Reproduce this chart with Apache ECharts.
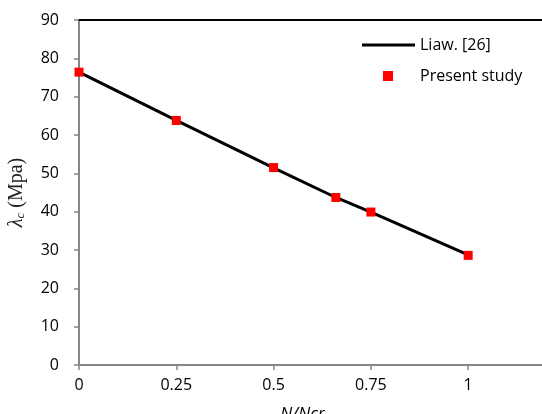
<!DOCTYPE html>
<html>
<head>
<meta charset="utf-8">
<script src="https://cdn.jsdelivr.net/npm/echarts@6/dist/echarts.min.js"></script>
<style>
  html, body { margin: 0; padding: 0; background: #fff; }
  #chart { width: 542px; height: 414px; }
</style>
</head>
<body>
<div id="chart"></div>
<script>
// N/Ncr ratios and critical stress values (Mpa)
const ratios = [0, 0.25, 0.5, 0.66, 0.75, 1];
const liawValues = [76.4, 63.8, 51.4, 43.7, 39.9, 28.7];
const presentValues = [76.4, 63.8, 51.5, 43.7, 39.9, 28.6];
const xTicks = [0, 0.25, 0.5, 0.75, 1];

const toPairs = (xs, ys) => xs.map((x, i) => [x, ys[i]]);

const chart = echarts.init(document.getElementById('chart'));
const font = 'Open Sans';

chart.setOption({
  animation: false,
  grid: { left: 79, top: 20, right: -4, bottom: 49, outerBoundsMode: 'none', containLabel: false },
  legend: [
    {
      data: [{ name: 'Liaw. [26]', icon: 'rect' }],
      left: 357, top: 32,
      itemWidth: 53, itemHeight: 3,
      textStyle: { fontFamily: font, fontSize: 16, color: '#000' }
    },
    {
      data: [{ name: 'Present study', icon: 'rect' }],
      left: 378, top: 63,
      itemWidth: 10, itemHeight: 10,
      itemStyle: { opacity: 1 },
      textStyle: { fontFamily: font, fontSize: 16, color: '#000', padding: [0, 0, 0, 22] }
    }
  ],
  xAxis: [
    {
      type: 'value', min: 0, max: 1.2, interval: 0.25,
      name: 'N/Ncr', nameLocation: 'middle', nameGap: 41,
      nameTextStyle: { fontFamily: font, fontSize: 17, fontStyle: 'italic', color: '#000', padding: [0, 20, 0, 0] },
      axisLine: { lineStyle: { color: '#868686', width: 2 } },
      axisTick: { show: true, length: 5, lineStyle: { color: '#868686', width: 1.5 },
        customValues: xTicks },
      axisLabel: { fontFamily: font, fontSize: 16, color: '#000', margin: 12,
        customValues: xTicks, formatter: v => String(v) },
      splitLine: { show: false }
    },
    {
      type: 'value', min: 0, max: 1.2, position: 'top',
      axisLine: { show: true, lineStyle: { color: '#000', width: 2 } },
      axisTick: { show: false }, axisLabel: { show: false }, splitLine: { show: false }
    }
  ],
  yAxis: {
    type: 'value', min: 0, max: 90, interval: 10,
    name: '{l|λ}{s|c}{a| (Mpa)}', nameLocation: 'middle', nameGap: 52, nameRotate: 90,
    nameTextStyle: {
      rich: {
        l: { fontFamily: 'Liberation Serif', fontSize: 20, fontStyle: 'italic', color: '#222' },
        a: { fontFamily: 'Liberation Serif', fontSize: 20, color: '#222' },
        s: { fontFamily: 'Liberation Serif', fontSize: 13, fontStyle: 'italic', color: '#222', padding: [7, 0, 0, 0] }
      }
    },
    axisLine: { show: true, lineStyle: { color: '#868686', width: 2 } },
    axisTick: { show: true, length: 5, lineStyle: { color: '#868686', width: 1.5 } },
    axisLabel: { fontFamily: font, fontSize: 16, color: '#000', margin: 20 },
    splitLine: { show: false }
  },
  series: [
    {
      name: 'Liaw. [26]', type: 'line',
      data: toPairs(ratios, liawValues),
      showSymbol: false, symbol: 'none',
      lineStyle: { color: '#000', width: 3 },
      itemStyle: { color: '#000' },
      z: 2
    },
    {
      name: 'Present study', type: 'scatter',
      data: toPairs(ratios, presentValues),
      symbol: 'rect', symbolSize: 9,
      itemStyle: { color: '#ff0000', opacity: 1 },
      z: 3
    }
  ]
});
</script>
</body>
</html>
